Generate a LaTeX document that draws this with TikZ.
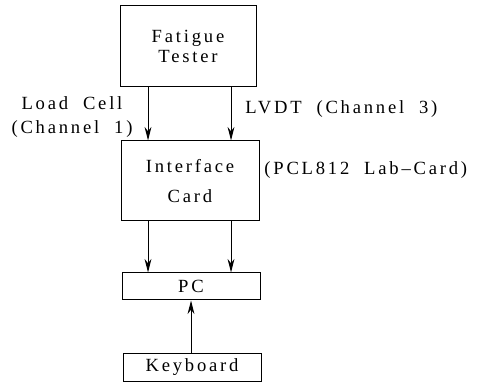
\documentclass[tikz,border=0pt]{standalone}
\usepackage{fontspec}
\setmainfont{Liberation Serif}[LetterSpace=15, WordSpace=2]
\usetikzlibrary{arrows.meta}
\tikzset{
        blk/.style={draw, line width=0.5pt, align=center, inner sep=0pt},
        lbl/.style={align=center, inner sep=0pt},
        sig/.style={line width=0.5pt, -{Stealth[length=6.8pt,width=3.4pt]}}
}

\begin{document}
\begin{tikzpicture}[x=0.5pt, y=-0.5pt, font=\fontsize{9.3pt}{12pt}\selectfont]
        \useasboundingbox (0,0) rectangle (485,383);
        \node (tester) [blk, minimum width=68pt, minimum height=40.5pt] at (188, 46.5) {Fatigue\\[-2.2pt]Tester};
        \node (card) [blk, minimum width=69pt, minimum height=40pt] at (190, 181) {Interface\\[2.8pt]Card};
        \node (pc) [blk, minimum width=69pt, minimum height=13.5pt] at (191, 286.5) {PC};
        \node (kbd) [blk, minimum width=69pt, minimum height=14pt] at (192, 367) {Keyboard};
        \node (load) [lbl] at (72, 117) {Load Cell\\(Channel 1)};
        \node (lvdt) [lbl, anchor=west] at (245, 109) {LVDT (Channel 3)};
        \node (pcl) [lbl, anchor=west] at (264, 170) {(PCL812 Lab--Card)};
        \coordinate (lcol) at (148, 0);
        \coordinate (rcol) at (231, 0);
        \coordinate (mcol) at (191, 0);
        \draw [sig] (tester.south -| lcol) -- (card.north -| lcol);
        \draw [sig] (tester.south -| rcol) -- (card.north -| rcol);
        \draw [sig] (card.south -| lcol) -- (pc.north -| lcol);
        \draw [sig] (card.south -| rcol) -- (pc.north -| rcol);
        \draw [sig] (kbd.north -| mcol) -- (pc.south -| mcol);
\end{tikzpicture}
\end{document}
